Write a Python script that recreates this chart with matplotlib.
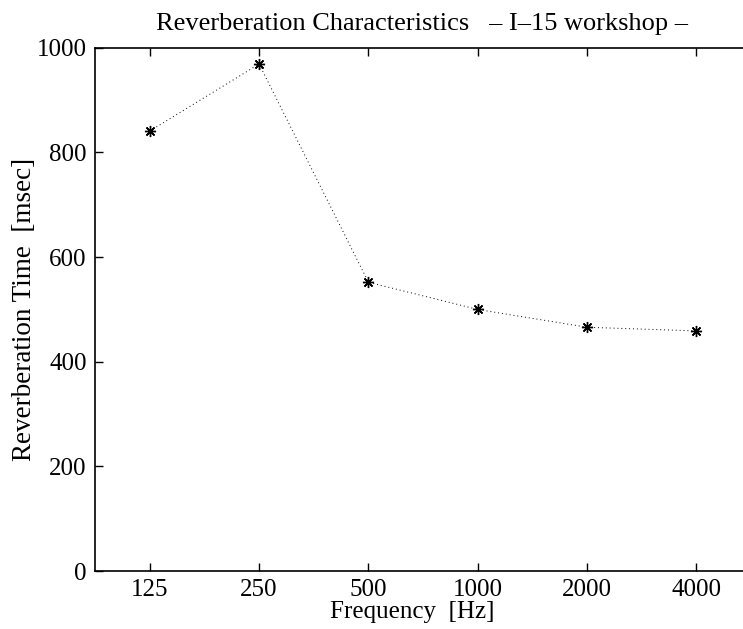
import matplotlib
matplotlib.use("Agg")
import matplotlib.pyplot as plt

freq_labels = ["125", "250", "500", "1000", "2000", "4000"]
reverb_ms = [841, 969, 552, 500, 466, 459]
y_ticks = [0, 200, 400, 600, 800, 1000]

plt.rcParams['font.family'] = ['Liberation Serif', 'DejaVu Serif']

fig = plt.figure(figsize=(7.43, 6.29), dpi=100)
ax_w = 0.877
ax = fig.add_axes([0.128, 0.092, ax_w, 0.832])

x = list(range(1, len(freq_labels) + 1))
ax.plot(x, reverb_ms, linestyle=(0, (1, 3)), color='black', linewidth=0.7,
        marker=(8, 2, 0), markersize=8, markerfacecolor='black', markeredgecolor='black',
        markeredgewidth=1.0)

ax.set_xlim(0.5, 6.46)
ax.set_ylim(0, 1000)
ax.set_xticks(x)
ax.set_xticklabels(freq_labels)
ax.set_yticks(y_ticks)

ax.tick_params(direction='in', top=True, right=False, length=6, width=1,
               labelsize=18, pad=6)
for s in ax.spines.values():
    s.set_linewidth(1.2)

ax.set_xlabel("Frequency  [Hz]", fontsize=18, labelpad=0)
ax.xaxis.label.set_x((412 - 95) / (ax_w * 743))
ax.set_ylabel("Reverberation Time  [msec]", fontsize=19.5, labelpad=0)
ax.set_title("Reverberation Characteristics   \u2013 I\u201315 workshop \u2013",
             fontsize=19, pad=13, x=(422 - 95) / (ax_w * 743))

fig.savefig("out.png", dpi=100)
